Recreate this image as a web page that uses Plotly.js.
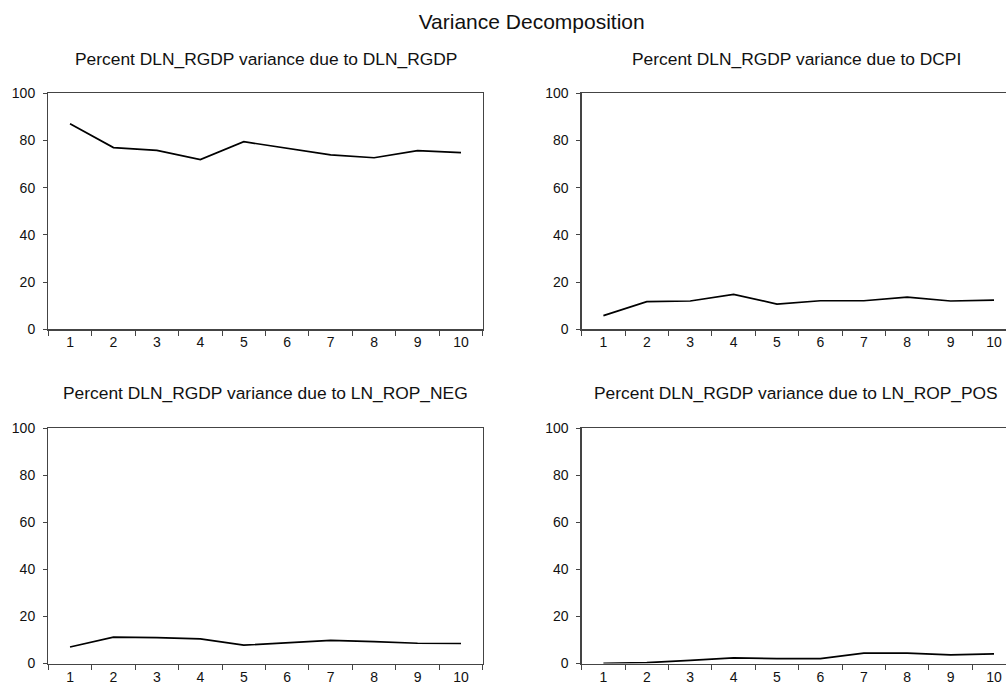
<!DOCTYPE html>
<html>
<head>
<meta charset="utf-8">
<script src="https://cdn.plot.ly/plotly-3.0.1.min.js"></script>
<style>
html, body { margin: 0; padding: 0; overflow: hidden; background: #fff; }
#chart { width: 1020px; height: 684px; }
</style>
</head>
<body>
<div id="chart"></div>
<script>
// ---- Data ----
const periods = ["1", "2", "3", "4", "5", "6", "7", "8", "9", "10"];
const dueToDlnRgdp = [87.1, 77.0, 75.8, 71.9, 79.5, 76.7, 73.9, 72.7, 75.7, 74.9];
const dueToDcpi    = [5.8, 11.7, 12.0, 14.8, 10.7, 12.1, 12.1, 13.6, 12.0, 12.4];
const dueToRopNeg  = [7.0, 11.2, 11.0, 10.5, 7.8, 8.8, 9.8, 9.3, 8.6, 8.5];
const dueToRopPos  = [0.1, 0.4, 1.3, 2.4, 2.1, 2.1, 4.4, 4.4, 3.7, 4.1];
const yTicks = [0, 20, 40, 60, 80, 100];
const mainTitle = "Variance Decomposition";
const panelTitles = [
  "Percent DLN_RGDP variance due to DLN_RGDP",
  "Percent DLN_RGDP variance due to DCPI",
  "Percent DLN_RGDP variance due to LN_ROP_NEG",
  "Percent DLN_RGDP variance due to LN_ROP_POS"
];
const series = [dueToDlnRgdp, dueToDcpi, dueToRopNeg, dueToRopPos];

// ---- Layout geometry (pixels) ----
const W = 1020, H = 684;
const cols = [[48.3, 482.7], [581.7, 1015.7]];
const rows = [[93.3, 329.3], [428.3, 663.5]];
const titleY = [58.7, 393.3];
const titleX = [265.5, 796.0];
const FONT = "Liberation Sans, Arial, sans-serif";

const traces = [];
const layout = {
  width: W, height: H,
  margin: {l: 0, r: 0, t: 0, b: 0},
  paper_bgcolor: "#fff", plot_bgcolor: "#fff",
  showlegend: false,
  font: {family: FONT, color: "#111"},
  title: {text: mainTitle, x: 531.7 / W, xanchor: "center", y: 1 - 21.5 / H, yanchor: "middle",
          font: {family: FONT, size: 21, color: "#111"}},
  annotations: []
};

for (let i = 0; i < 4; i++) {
  const r = Math.floor(i / 2), c = i % 2;
  const n = i + 1;
  const xa = n === 1 ? "x" : "x" + n;
  const ya = n === 1 ? "y" : "y" + n;
  traces.push({
    type: "scatter", mode: "lines",
    x: periods, y: series[i],
    xaxis: xa, yaxis: ya,
    line: {color: "#000", width: 1.7},
    hoverinfo: "skip"
  });
  const xKey = n === 1 ? "xaxis" : "xaxis" + n;
  const yKey = n === 1 ? "yaxis" : "yaxis" + n;
  layout[xKey] = {
    domain: [cols[c][0] / W, cols[c][1] / W],
    anchor: ya,
    type: "category",
    categoryorder: "array", categoryarray: periods,
    range: [-0.5, 9.5],
    tickson: "boundaries",
    ticks: "outside", ticklen: 5, tickwidth: 1, tickcolor: "#444",
    showline: true, linecolor: "#444", linewidth: 1.3, mirror: true,
    showgrid: false, zeroline: false,
    tickfont: {family: FONT, size: 14, color: "#111"},
    fixedrange: true
  };
  layout[yKey] = {
    domain: [1 - rows[r][1] / H, 1 - rows[r][0] / H],
    anchor: xa,
    range: [0, 100],
    tickmode: "array", tickvals: yTicks, ticktext: yTicks.map(String),
    ticks: "outside", ticklen: 4, tickwidth: 1, tickcolor: "#444",
    ticklabelstandoff: 5,
    showline: true, linecolor: "#444", linewidth: 1.3, mirror: true,
    showgrid: false, zeroline: false,
    tickfont: {family: FONT, size: 14, color: "#111"},
    fixedrange: true
  };
  layout.annotations.push({
    text: panelTitles[i],
    xref: "paper", yref: "paper",
    x: titleX[c] / W, xanchor: "center",
    y: 1 - titleY[r] / H, yanchor: "middle",
    showarrow: false,
    font: {family: FONT, size: 17.4, color: "#111"}
  });
}

Plotly.newPlot("chart", traces, layout, {displayModeBar: false, staticPlot: true});
</script>
</body>
</html>
